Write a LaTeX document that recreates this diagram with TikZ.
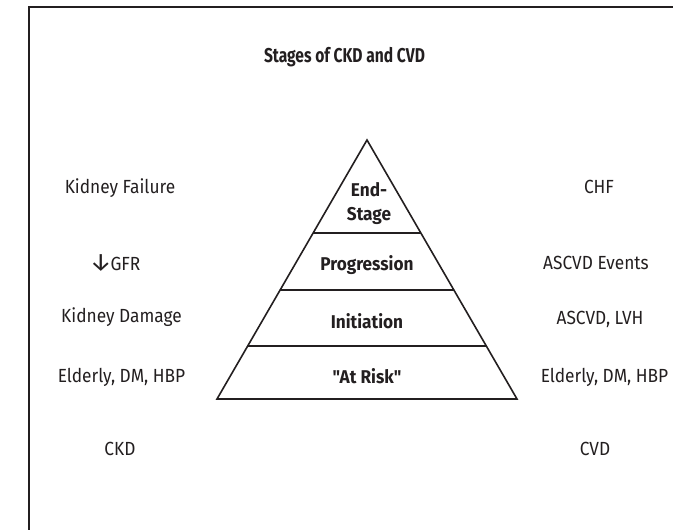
\documentclass[tikz,border=0pt]{standalone}
\usepackage{fontspec}
\setmainfont{Fira Sans}[FakeStretch=0.91]
\newfontfamily\titlefont{Fira Sans}[FakeStretch=0.78]
\newfontfamily\stagefont{Fira Sans}[FakeStretch=0.93]
\newfontfamily\symfont{Fira Sans}
\usepackage{tikz}
\usetikzlibrary{positioning, calc}
\definecolor{mydark}{RGB}{35,31,32}
\tikzset{
  sidelabel/.style={inner sep=0pt, font=\fontsize{19}{21}\selectfont, text=mydark},
  stagelabel/.style={inner sep=0pt, align=center, font=\stagefont\fontsize{18.5}{24}\selectfont\bfseries, text=mydark},
  titlelabel/.style={inner sep=0pt, font=\titlefont\fontsize{20}{22}\selectfont\bfseries, text=mydark},
  frameline/.style={line width=2pt, color=mydark},
  pyrline/.style={line width=1.6pt, color=mydark}
}

\begin{document}
\begin{tikzpicture}[x=1pt, y=-1pt]
  \useasboundingbox (0,0) rectangle (673,530);

  % Frame
  \draw[frameline] (29,531) -- (29,7) -- (674,7);

  % Title
  \node[titlelabel] (title) at (344.5,57) {Stages of CKD and CVD};

  % Pyramid
  \coordinate (apex) at (367,140);
  \coordinate (bl) at (217,399);
  \coordinate (br) at (517,399);
  \draw[pyrline, line join=miter] (apex) -- (bl) -- (br) -- cycle;
  \draw[pyrline] ($(apex)!0.359!(bl)$) -- ($(apex)!0.359!(br)$);
  \draw[pyrline] ($(apex)!0.579!(bl)$) -- ($(apex)!0.579!(br)$);
  \draw[pyrline] ($(apex)!0.795!(bl)$) -- ($(apex)!0.795!(br)$);

  % Stages
  \node[stagelabel] (endstage) at (369,204) {End-\\Stage};
  \node[stagelabel] (progression) at (367,265) {Progression};
  \node[stagelabel] (initiation) at (367,321) {Initiation};
  \node[stagelabel] (atrisk) at (367,376) {"At Risk"};

  % CKD side
  \node[sidelabel] (kfail) at (120,188) {Kidney Failure};
  \node[sidelabel] (gfr) at (115,263) {{\symfont\fontsize{25}{21}\selectfont ↓}\kern-1.5pt GFR};
  \node[sidelabel] (kdamage) at (121.5,317) {Kidney Damage};
  \node[sidelabel] (lrisk) at (121.5,377) {Elderly, DM, HBP};
  \node[sidelabel] (ckd) at (120,449) {CKD};

  % CVD side
  \node[sidelabel] (chf) at (599,187) {CHF};
  \node[sidelabel] (events) at (596,263) {ASCVD Events};
  \node[sidelabel] (lvh) at (600,319) {ASCVD, LVH};
  \node[sidelabel] (rrisk) at (604.5,377) {Elderly, DM, HBP};
  \node[sidelabel] (cvd) at (595,449) {CVD};

\end{tikzpicture}
\end{document}
